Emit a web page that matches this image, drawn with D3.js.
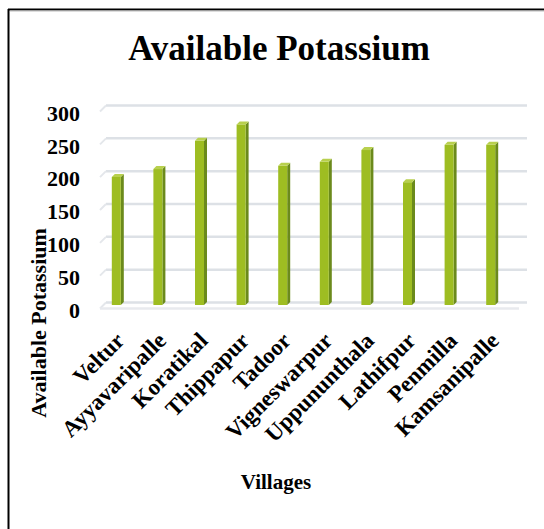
<!DOCTYPE html>
<html>
<head>
<meta charset="utf-8">
<script src="https://cdn.jsdelivr.net/npm/d3@7/dist/d3.min.js"></script>
<style>
  body { margin: 0; background: #fff; }
  text { font-family: "Liberation Serif", "Times New Roman", serif; font-weight: bold; fill: #000; }
</style>
</head>
<body>
<script>
var width = 544,
    height = 529;

// chart data
var villages = ["Veltur", "Ayyavaripalle", "Koratikal", "Thippapur", "Tadoor",
    "Vigneswarpur", "Uppununthala", "Lathifpur", "Penmilla", "Kamsanipalle"];
var potassium = [195, 207, 250, 275, 212, 218, 236, 187, 244, 244];
var yTicks = [0, 50, 100, 150, 200, 250, 300];

// depth offset of the 3d box (back wall vs bar plane)
var depth = {dx: 6, dy: -2.5};

var x = d3.scaleBand()
    .domain(villages)
    .range([97, 513]);

var y = d3.scaleLinear()
    .domain([0, 300])
    .range([305, 108]);

var svg = d3.select("body").append("svg")
    .attr("width", width)
    .attr("height", height);

// frame (only top and left edge visible in the crop)
svg.append("line").attr("x1", 8).attr("x2", width).attr("y1", 9.5).attr("y2", 9.5)
    .attr("stroke", "#000").attr("stroke-width", 2);
svg.append("line").attr("x1", 8.5).attr("x2", 8.5).attr("y1", 9).attr("y2", height)
    .attr("stroke", "#000").attr("stroke-width", 2);
svg.append("line").attr("x1", 10).attr("x2", width).attr("y1", 11).attr("y2", 11)
    .attr("stroke", "#bbb").attr("stroke-width", 1);

svg.append("text")
    .attr("x", 279).attr("y", 60)
    .attr("text-anchor", "middle")
    .style("font-size", "35px")
    .text("Available Potassium");

// back wall gridlines
var grid = svg.append("g");
grid.selectAll("line.grid")
    .data(yTicks)
  .enter().append("line")
    .attr("class", "grid")
    .attr("x1", 100 + depth.dx)
    .attr("x2", 527)
    .attr("y1", function(d) { return y(d) + depth.dy; })
    .attr("y2", function(d) { return y(d) + depth.dy; })
    .attr("stroke", "#dde1e6")
    .attr("stroke-width", 2.5);
// side wall stubs
grid.selectAll("line.stub")
    .data(yTicks)
  .enter().append("line")
    .attr("class", "stub")
    .attr("x1", 100)
    .attr("x2", 100 + depth.dx)
    .attr("y1", function(d) { return y(d) - depth.dy + 1; })
    .attr("y2", function(d) { return y(d) + depth.dy; })
    .attr("stroke", "#e4e7eb")
    .attr("stroke-width", 2);
// floor front edge
grid.append("line")
    .attr("x1", 100).attr("x2", 519)
    .attr("y1", y(0) - depth.dy + 1).attr("y2", y(0) - depth.dy + 1)
    .attr("stroke", "#e8eaee")
    .attr("stroke-width", 2.5);

// bars with front, side and top faces
var fw = 9, sw = 3, th = 3;
var bars = svg.append("g").selectAll("g")
    .data(villages.map(function(v, i) { return {name: v, value: potassium[i]}; }))
  .enter().append("g");

bars.append("path")
    .attr("fill", "#6b8a1c")
    .attr("d", function(d) {
      var x0 = x(d.name) + x.bandwidth() / 2 - 6 + fw, top = y(d.value), bot = y(0);
      return "M" + x0 + "," + top + "L" + (x0 + sw) + "," + (top - th) +
             "L" + (x0 + sw) + "," + (bot - th) + "L" + x0 + "," + bot + "Z";
    });
bars.append("rect")
    .attr("fill", "#9ebd22")
    .attr("x", function(d) { return x(d.name) + x.bandwidth() / 2 - 6; })
    .attr("y", function(d) { return y(d.value); })
    .attr("width", fw)
    .attr("height", function(d) { return y(0) - y(d.value); });
bars.append("path")
    .attr("fill", "#b8d04e")
    .attr("d", function(d) {
      var x0 = x(d.name) + x.bandwidth() / 2 - 6, top = y(d.value);
      return "M" + x0 + "," + top + "L" + (x0 + sw) + "," + (top - th) +
             "L" + (x0 + fw + sw) + "," + (top - th) + "L" + (x0 + fw) + "," + top + "Z";
    });

// y tick labels
svg.append("g").selectAll("text")
    .data(yTicks)
  .enter().append("text")
    .attr("x", 80)
    .attr("y", function(d) { return y(d) + 5; })
    .attr("dy", "0.35em")
    .attr("text-anchor", "end")
    .style("font-size", "22px")
    .text(function(d) { return d; });

// x tick labels, rotated
svg.append("g").selectAll("text")
    .data(villages)
  .enter().append("text")
    .attr("text-anchor", "end")
    .attr("transform", function(d) {
      return "translate(" + (x(d) + x.bandwidth() / 2 + 8) + "," + 342 + ") rotate(-45)";
    })
    .style("font-size", "23px")
    .text(function(d) { return d; });

// axis titles
svg.append("text")
    .attr("transform", "translate(46,323) rotate(-90)")
    .attr("text-anchor", "middle")
    .style("font-size", "22px")
    .text("Available Potassium");

svg.append("text")
    .attr("x", 276).attr("y", 489)
    .attr("text-anchor", "middle")
    .style("font-size", "21px")
    .text("Villages");
</script>
</body>
</html>
